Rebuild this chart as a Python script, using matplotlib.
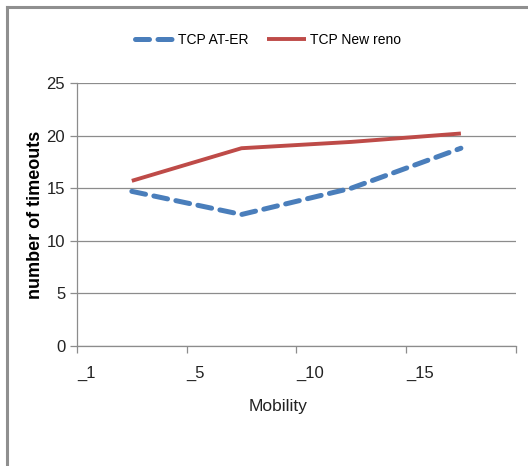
import matplotlib.pyplot as plt
from matplotlib.lines import Line2D

plt.rcParams['font.family'] = ['Liberation Sans Narrow', 'Liberation Sans', 'DejaVu Sans']

# data
categories = ['_1', '_5', '_10', '_15']
tcp_ater = [14.7, 12.5, 15.0, 18.8]
tcp_newreno = [15.7, 18.8, 19.4, 20.2]

blue = '#4a7ebb'
red = '#be4b48'
grid_col = '#8c8c8c'

fig = plt.figure(figsize=(5.28, 4.66), dpi=100)
ax = fig.add_axes([0.1458, 0.2575, 0.831, 0.5644])

xs = [i + 0.5 for i in range(len(categories))]
ax.plot(xs, tcp_ater, color=blue, lw=3.6, dashes=(2.8, 1.7),
        dash_capstyle='round', label='TCP AT-ER')
ax.plot(xs, tcp_newreno, color=red, lw=2.8, solid_capstyle='butt',
        label='TCP New reno')

ax.set_xlim(0, len(categories))
ax.set_ylim(0, 25)
ax.set_yticks(range(0, 26, 5))
ax.set_xticks(range(len(categories) + 1))
ax.set_xticklabels(categories + [''], ha='left')
ax.grid(axis='y', color=grid_col, lw=0.9)
ax.set_axisbelow(True)

for s in ['top', 'right']:
    ax.spines[s].set_visible(False)
for s in ['left', 'bottom']:
    ax.spines[s].set_color(grid_col)
    ax.spines[s].set_linewidth(0.9)
ax.tick_params(axis='both', colors=grid_col, length=5, width=0.9, labelcolor='#222222',
               labelsize=12)
ax.tick_params(axis='x', pad=9)

ax.set_ylabel('number of timeouts', family=['Liberation Sans', 'DejaVu Sans'],
              fontweight='bold', fontsize=13, labelpad=2)
fig.text(278 / 528, 1 - 407 / 466, 'Mobility', ha='center', va='center',
         fontsize=12.5, color='#222222')

leg = fig.legend(loc='center', bbox_to_anchor=(268 / 528, 1 - 40 / 466), ncol=2,
                 frameon=False, fontsize=10, handlelength=2.8, columnspacing=1.4,
                 handletextpad=0.25)

# border lines (left and top only)
fig.add_artist(Line2D([7 / 528, 7 / 528], [0, 1 - 7 / 466], transform=fig.transFigure,
                      color='#8f8f8f', lw=2.2))
fig.add_artist(Line2D([7 / 528, 1], [1 - 7 / 466, 1 - 7 / 466], transform=fig.transFigure,
                      color='#8f8f8f', lw=2.2))

fig.savefig('out.png', dpi=100)
